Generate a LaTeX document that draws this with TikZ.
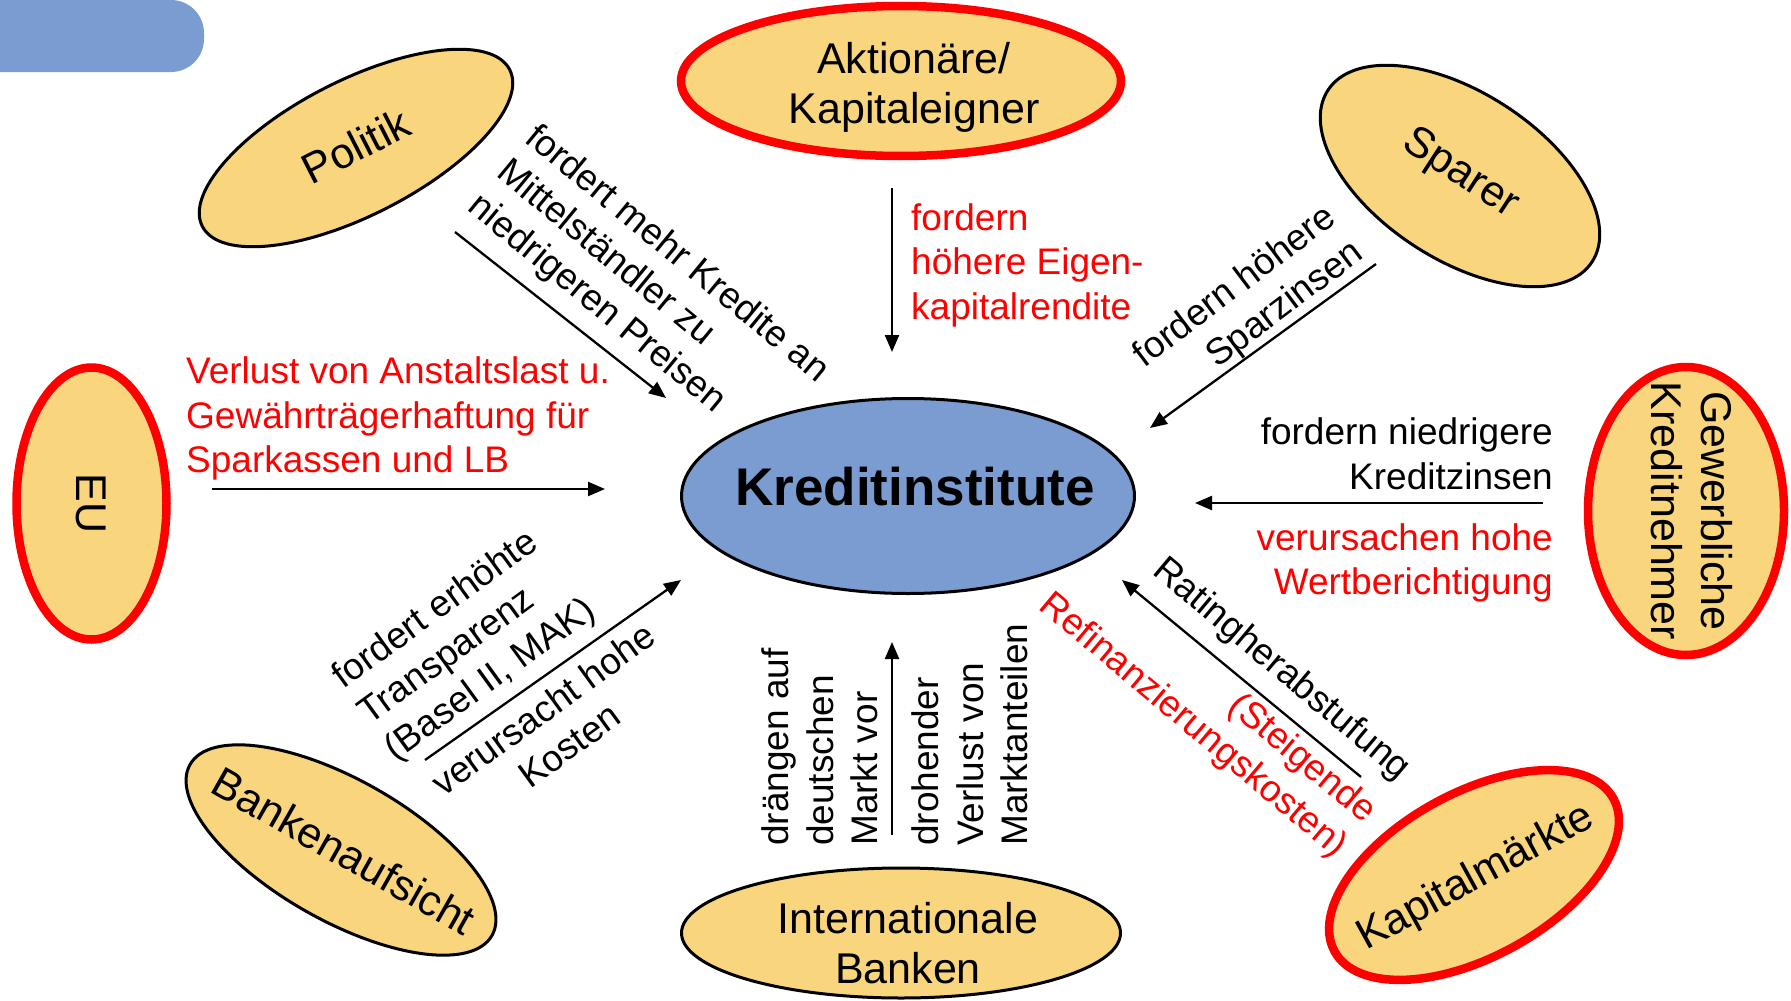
\documentclass[tikz,border=0pt]{standalone}
\usepackage{fontspec}
\setmainfont{Liberation Sans}
\usetikzlibrary{shapes.geometric,arrows.meta}
\definecolor{ellfill}{RGB}{249,213,126}
\definecolor{kiblue}{RGB}{123,156,208}
\definecolor{lblred}{RGB}{255,0,0}
\begin{document}
\begin{tikzpicture}[x=1pt,y=-1pt,
  ell/.style={ellipse, draw=black, line width=3pt, fill=ellfill, inner sep=0pt},
  redell/.style={ell, draw=lblred, line width=8.5pt},
  ntext/.style={inner sep=0pt, align=center, font=\fontsize{43pt}{50pt}\selectfont},
  lbl/.style={inner sep=0pt, font=\fontsize{37pt}{44.5pt}\selectfont},
  redlbl/.style={lbl, text=lblred},
  arr/.style={line width=2.3pt, -{Triangle[length=17pt,width=14pt]}}
]
\useasboundingbox (0,0) rectangle (1791,1001);
\fill[white] (0,0) rectangle (1791,1001);
\fill[kiblue, rounded corners=33pt] (-60,0) rectangle (204,72);

% central node
\node[ell, fill=kiblue, minimum width=453pt, minimum height=195pt] (ki) at (908,496) {};
\node[inner sep=0pt, font=\fontsize{53pt}{60pt}\selectfont\bfseries] (kit) at (915,487) {Kreditinstitute};

% actors
\node[redell, minimum width=440pt, minimum height=150pt] (akt) at (901,81) {};
\node[ntext] (aktt) at (914,87) {Aktionäre/\\Kapitaleigner};

\node[ell, rotate=27, minimum width=345pt, minimum height=135pt] (pol) at (356,148) {};
\node[ntext, rotate=27] (polt) at (356,146) {Politik};

\node[ell, rotate=-33, minimum width=315pt, minimum height=167pt] (spa) at (1460,176) {};
\node[ntext, rotate=-33] (spat) at (1460,174) {Sparer};

\node[redell, minimum width=150pt, minimum height=272pt] (eu) at (91.5,503.5) {};
\node[ntext, rotate=-90] (eut) at (91.5,503.5) {EU};

\node[redell, minimum width=196pt, minimum height=288pt] (gew) at (1686,511) {};
\node[ntext, rotate=-90] (gewt) at (1692,511) {Gewerbliche\\Kreditnehmer};

\node[ell, rotate=-29.5, minimum width=347pt, minimum height=141pt] (bank) at (341,850) {};
\node[ntext, rotate=-29.5] (bankt) at (344,851) {Bankenaufsicht};

\node[redell, rotate=28.7, minimum width=318pt, minimum height=164pt] (kap) at (1474,875) {};
\node[ntext, rotate=28.7] (kapt) at (1476,878) {Kapitalmärkte};

\node[ell, minimum width=439pt, minimum height=130pt] (int) at (901,933) {};
\node[ntext] (intt) at (908,943) {Internationale\\Banken};

% arrow end points
\coordinate (polA) at (455,232); \coordinate (polB) at (666,398);
\coordinate (aktA) at (892,188); \coordinate (aktB) at (892,352);
\coordinate (spaA) at (1376,264); \coordinate (spaB) at (1150,428);
\coordinate (gewA) at (1543,503); \coordinate (gewB) at (1195,503);
\coordinate (euA) at (212,489); \coordinate (euB) at (605,489);
\coordinate (bankA) at (425,760); \coordinate (bankB) at (681,580);
\coordinate (intA) at (892,835); \coordinate (intB) at (892,642);
\coordinate (kapA) at (1361,777); \coordinate (kapB) at (1122,580);

\draw[arr] (polA) -- (polB);
\draw[arr] (aktA) -- (aktB);
\draw[arr] (spaA) -- (spaB);
\draw[arr] (gewA) -- (gewB);
\draw[arr] (euA) -- (euB);
\draw[arr] (bankA) -- (bankB);
\draw[arr] (intA) -- (intB);
\draw[arr] (kapA) -- (kapB);

% labels
\node[lbl, rotate=-39.5, align=left, anchor=west] (poll) at (501,168) {fordert mehr Kredite an\\Mittelständler zu\\niedrigeren Preisen};
\node[redlbl, align=left, anchor=west] (aktl) at (911,265) {fordern\\höhere Eigen-\\kapitalrendite};
\node[lbl, rotate=37, align=right, anchor=east] (spal) at (1346,232) {fordern höhere\\Sparzinsen};
\node[lbl, align=right, anchor=east] (gewl) at (1553,454) {fordern niedrigere\\Kreditzinsen};
\node[redlbl, align=right, anchor=east] (gewr) at (1553,563) {verursachen hohe\\Wertberichtigung};
\node[redlbl, align=left, anchor=west] (eul) at (186,418.5) {Verlust von Anstaltslast u.\\Gewährträgerhaftung für\\Sparkassen und LB};
\node[lbl, rotate=36, align=left, anchor=west] (bankl) at (364,718) {fordert erhöhte\\Transparenz\\(Basel II, MAK)};
\node[lbl, rotate=36, align=center] (bankk) at (556,727) {verursacht hohe\\Kosten};
\node[lbl, rotate=90, align=left, anchor=west] (intl) at (820,846) {drängen auf\\deutschen\\Markt vor};
\node[lbl, rotate=90, align=left, anchor=west] (intv) at (970,846) {drohender\\Verlust von\\Marktanteilen};
\node[lbl, rotate=-40] (kapl) at (1281,670) {Ratingherabstufung};
\node[redlbl, rotate=-40, align=right, anchor=east] (kapr) at (1356,834) {(Steigende\\Refinanzierungskosten)};
\end{tikzpicture}
\end{document}
